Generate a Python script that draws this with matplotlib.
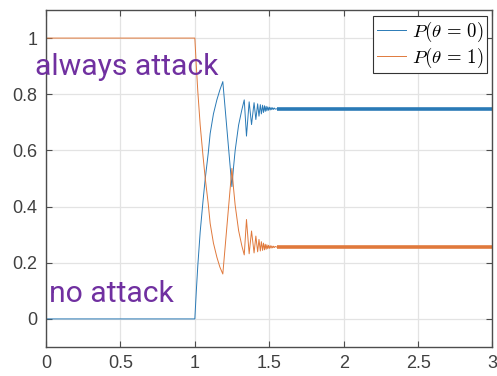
import matplotlib
matplotlib.use("Agg")
import matplotlib.pyplot as plt
from matplotlib import font_manager

# ---- data ----
t_osc = [0, 1.0, 1.01, 1.02, 1.036, 1.055, 1.07, 1.09, 1.103, 1.125, 1.148, 1.168, 1.188,
         1.249, 1.26, 1.271, 1.294, 1.316, 1.332, 1.347, 1.365, 1.381, 1.398, 1.410,
         1.422, 1.431, 1.440, 1.447, 1.455, 1.461, 1.468, 1.473, 1.479, 1.484, 1.490,
         1.495, 1.501, 1.506, 1.512, 1.517, 1.523, 1.528, 1.534, 1.54, 1.55]
p0_osc = [0, 0, 0.10, 0.19, 0.31, 0.42, 0.50, 0.59, 0.66, 0.73, 0.78, 0.815, 0.845,
          0.471, 0.54, 0.60, 0.69, 0.745, 0.78, 0.651, 0.773, 0.692, 0.770, 0.710,
          0.766, 0.722, 0.763, 0.730, 0.761, 0.735, 0.759, 0.739, 0.757, 0.741, 0.755,
          0.743, 0.754, 0.744, 0.753, 0.745, 0.752, 0.746, 0.751, 0.747, 0.748]
p1_osc = [1, 1, 0.90, 0.81, 0.69, 0.58, 0.50, 0.41, 0.34, 0.27, 0.22, 0.185, 0.16,
          0.536, 0.465, 0.405, 0.315, 0.26, 0.228, 0.354, 0.232, 0.313, 0.235, 0.295,
          0.239, 0.283, 0.242, 0.275, 0.244, 0.270, 0.246, 0.266, 0.248, 0.264, 0.250,
          0.262, 0.251, 0.261, 0.252, 0.260, 0.253, 0.259, 0.254, 0.258, 0.256]
# steady-state band (dense small oscillation)
t_band = [1.55, 3.0]
p0_band = [0.748, 0.748]
p1_band = [0.256, 0.256]

legend_labels = [r"$P(\theta\,=\,0)$", r"$P(\theta\,=\,1)$"]
x_ticks = [0, 0.5, 1, 1.5, 2, 2.5, 3]
x_ticklabels = ["0", "0.5", "1", "1.5", "2", "2.5", "3"]
y_ticks = [0, 0.2, 0.4, 0.6, 0.8, 1.0]
y_ticklabels = ["0", "0.2", "0.4", "0.6", "0.8", "1"]
annotations = [("always attack", -0.074, 0.87), ("no attack", 0.02, 0.059)]

# ---- style ----
plt.rcParams["mathtext.fontset"] = "cm"
plt.rcParams["font.family"] = ["Liberation Sans", "DejaVu Sans"]

available = {f.name for f in font_manager.fontManager.ttflist}
if "Liberation Sans Narrow" in available:
    anno_family, anno_size = ["Liberation Sans Narrow", "DejaVu Sans"], 25
else:
    anno_family, anno_size = ["Roboto", "DejaVu Sans"], 21.7

c_blue = "#2a7ab6"
c_orange = "#e0793c"
c_purple = "#7030A0"

fig = plt.figure(figsize=(4.97, 3.76), dpi=100)
ax = fig.add_axes([46 / 497, 29 / 376, 446.5 / 497, 337 / 376])

l0, = ax.plot(t_osc, p0_osc, color=c_blue, lw=0.7, label=legend_labels[0])
l1, = ax.plot(t_osc, p1_osc, color=c_orange, lw=0.7, label=legend_labels[1])
ax.plot(t_band, p0_band, color=c_blue, lw=2.6, solid_capstyle="butt")
ax.plot(t_band, p1_band, color=c_orange, lw=2.6, solid_capstyle="butt")

ax.set_xlim(0, 3)
ax.set_ylim(-0.1, 1.1)
ax.set_xticks(x_ticks)
ax.set_xticklabels(x_ticklabels)
ax.set_yticks(y_ticks)
ax.set_yticklabels(y_ticklabels)

ax.grid(True, color="#e3e3e3", lw=0.9)
ax.set_axisbelow(True)
for s in ax.spines.values():
    s.set_color("#4d4d4d")
    s.set_linewidth(1.0)
ax.tick_params(direction="in", length=4, width=0.8, color="#4d4d4d",
               top=True, right=True, labelsize=13, labelcolor="#404040", pad=6)

for txt, x, y in annotations:
    ax.text(x, y, txt, color=c_purple, fontsize=anno_size, transform=ax.transData,
            ha="left", va="baseline", fontfamily=anno_family,
            clip_on=False, zorder=5)

leg = ax.legend(handles=[l0, l1], loc="upper right", fontsize=13.5, frameon=True,
                fancybox=False, edgecolor="#333333", framealpha=1,
                handlelength=1.55, handletextpad=0.3, borderpad=0.2,
                labelspacing=0.1, borderaxespad=0.3)
leg.get_frame().set_linewidth(0.8)

fig.savefig("out.png", dpi=100)
